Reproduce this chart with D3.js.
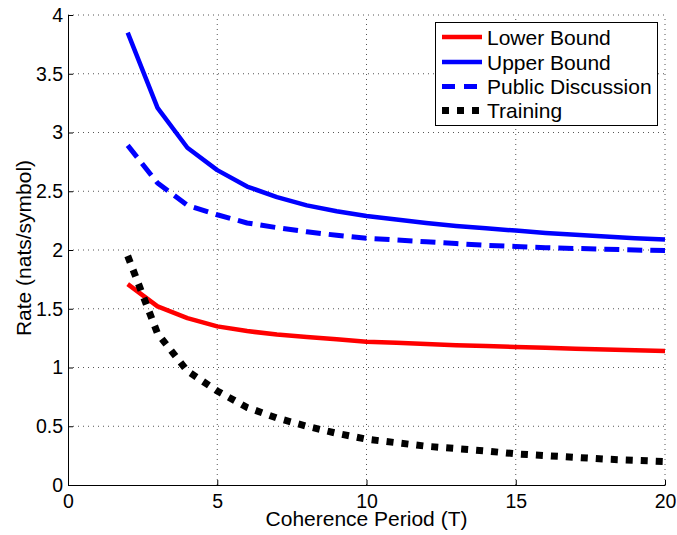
<!DOCTYPE html>
<html><head><meta charset="utf-8">
<script src="https://cdn.jsdelivr.net/npm/d3@7"></script>
<style>body{margin:0;background:#fff}svg{display:block}text{font-family:"Liberation Sans",Arial,sans-serif}</style>
</head><body><svg id="c" width="677" height="535"></svg>
<script>
const periods = [2,3,4,5,6,7,8,9,10,11,12,13,14,15,16,17,18,19,20];
const lowerBound = [1.71,1.52,1.42,1.35,1.31,1.28,1.26,1.24,1.22,1.21,1.20,1.19,1.183,1.175,1.168,1.16,1.153,1.147,1.14];
const upperBound = [3.85,3.21,2.87,2.68,2.54,2.45,2.38,2.33,2.29,2.26,2.23,2.205,2.185,2.165,2.145,2.13,2.115,2.10,2.09];
const publicDisc = [2.89,2.57,2.38,2.30,2.23,2.19,2.155,2.125,2.10,2.085,2.07,2.055,2.04,2.03,2.02,2.013,2.007,2.0,1.995];
const training = [1.95,1.29,0.97,0.80,0.66,0.57,0.50,0.44,0.39,0.36,0.33,0.31,0.29,0.265,0.25,0.235,0.22,0.21,0.20];
const xTicks = [0,5,10,15,20];
const yTicks = [0,0.5,1,1.5,2,2.5,3,3.5,4];
const seriesNames = ["Lower Bound","Upper Bound","Public Discussion","Training"];

const svg = d3.select("#c");
const L=68,R=665,T=15,B=485;
const x = d3.scaleLinear().domain([0,20]).range([L,R]);
const y = d3.scaleLinear().domain([0,4]).range([B,T]);

// grid
const g = svg.append("g");
g.selectAll(".gx").data(xTicks.slice(1)).enter().append("line")
 .attr("x1",d=>x(d)).attr("x2",d=>x(d)).attr("y1",B).attr("y2",T)
 .attr("stroke","#555").attr("stroke-width",1).attr("stroke-dasharray","1,4");
g.selectAll(".gy").data(yTicks.slice(1)).enter().append("line")
 .attr("y1",d=>y(d)).attr("y2",d=>y(d)).attr("x1",L).attr("x2",R)
 .attr("stroke","#555").attr("stroke-width",1).attr("stroke-dasharray","1,4");

// axes
const xa = svg.append("g").attr("transform",`translate(0,${B})`)
 .call(d3.axisBottom(x).tickValues(xTicks).tickFormat(d3.format("d")).tickSizeInner(-5).tickSizeOuter(0).tickPadding(9));
const ya = svg.append("g").attr("transform",`translate(${L},0)`)
 .call(d3.axisLeft(y).tickValues(yTicks).tickFormat(d=>String(d)).tickSizeInner(-5).tickSizeOuter(0).tickPadding(5));
[xa,ya].forEach(a=>{a.select(".domain").attr("stroke","#000").attr("stroke-width",1);
 a.selectAll("text").attr("font-size","19.5px").attr("fill","#000").style("font-family",'"Liberation Sans",Arial,sans-serif');
 a.selectAll(".tick line").attr("stroke","#000");});

// lines
const line = d3.line().x((d,i)=>x(periods[i])).y(d=>y(d));
const styles = [
 {data:lowerBound,color:"#ff0000",w:4.5,dash:null},
 {data:upperBound,color:"#0000ff",w:4.5,dash:null},
 {data:publicDisc,color:"#0000ff",w:5,dash:"15,8"},
 {data:training,color:"#000000",w:7,dash:"7,8"}
];
styles.forEach(s=>{
 svg.append("path").datum(s.data).attr("d",line).attr("fill","none")
  .attr("stroke",s.color).attr("stroke-width",s.w).attr("stroke-dasharray",s.dash)
  .attr("stroke-linejoin","round");
});

// labels
svg.append("text").attr("x",(L+R)/2).attr("y",526).attr("text-anchor","middle")
 .attr("font-size","21px").text("Coherence Period (T)");
svg.append("text").attr("transform",`translate(31,${(T+B)/2-2}) rotate(-90)`).attr("text-anchor","middle")
 .attr("font-size","21px").text("Rate (nats/symbol)");

// legend
const lg = svg.append("g");
lg.append("rect").attr("x",435.5).attr("y",22.5).attr("width",222).attr("height",103)
 .attr("fill","#fff").attr("stroke","#000").attr("stroke-width",1);
const rowY = [37,62,86.5,110.5];
styles.forEach((s,i)=>{
 lg.append("line").attr("x1",442).attr("x2",482).attr("y1",rowY[i]).attr("y2",rowY[i])
  .attr("stroke",s.color).attr("stroke-width",s.w).attr("stroke-dasharray",s.dash==="15,8"?"13,9":s.dash);
 lg.append("text").attr("x",487).attr("y",rowY[i]+7.5).attr("font-size","21px").text(seriesNames[i]);
});
</script></body></html>
